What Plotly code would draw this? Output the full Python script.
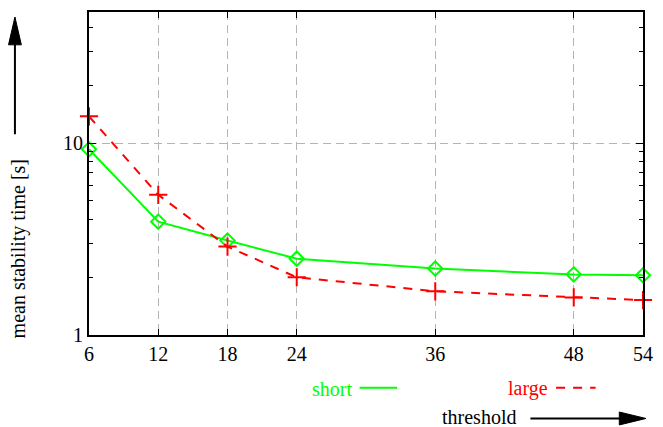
import plotly.graph_objects as go

thresholds = [6, 12, 18, 24, 36, 48, 54]
short_vals = [9.3, 3.90, 3.11, 2.50, 2.22, 2.07, 2.05]
large_vals = [13.8, 5.38, 2.89, 2.00, 1.69, 1.57, 1.52]
x_ticks = [6, 12, 18, 24, 36, 48, 54]
y_major = [1, 10]
y_minor = [2, 3, 4, 5, 6, 7, 8, 9, 20, 30, 40]

W, H = 663, 427
L, R, T, B = 89, 13, 10, 92
PW, PH = W - L - R, H - T - B

def px(x):
    return (x - L) / PW

def py(y):
    return (H - B - y) / PH

FONT = "Liberation Serif, Times New Roman, serif"
FS = 20
GREEN = "#00ff00"
RED = "#ff0000"

fig = go.Figure()
fig.add_trace(go.Scatter(
    x=thresholds, y=short_vals, mode="lines+markers", name="short",
    line=dict(color=GREEN, width=2),
    marker=dict(symbol="diamond-open", size=11, color=GREEN, line=dict(width=2, color=GREEN)),
    showlegend=False, cliponaxis=False))
fig.add_trace(go.Scatter(
    x=thresholds, y=large_vals, mode="lines+markers", name="large",
    line=dict(color=RED, width=2, dash="9px,8px"),
    marker=dict(symbol="cross-thin-open", size=13, color=RED, line=dict(width=2, color=RED)),
    showlegend=False, cliponaxis=False))

grid_color = "#b4b4b4"
fig.update_xaxes(
    range=[6, 54], tickvals=x_ticks, ticktext=[str(v) for v in x_ticks],
    ticks="inside", ticklen=6, tickwidth=1, tickcolor="black",
    showline=True, linecolor="black", linewidth=2, mirror="ticks",
    showgrid=True, gridcolor=grid_color, gridwidth=1, griddash="8px,5px",
    zeroline=False, tickfont=dict(family=FONT, size=FS, color="black"))
fig.update_yaxes(
    type="log", range=[0, 1.684], tickvals=y_major, ticktext=[str(v) for v in y_major],
    ticks="inside", ticklen=7, tickwidth=1, tickcolor="black",
    minor=dict(tickvals=y_minor, ticks="inside", ticklen=4, tickcolor="black", showgrid=False),
    showline=True, linecolor="black", linewidth=2, mirror="ticks",
    showgrid=True, gridcolor=grid_color, gridwidth=1, griddash="8px,5px",
    zeroline=False, tickfont=dict(family=FONT, size=FS, color="black"))

annotations = [
    dict(text="mean stability time [s]", x=px(18), y=py(248), textangle=-90,
         font=dict(family=FONT, size=FS, color="black")),
    dict(text="short", x=px(335), y=py(389), font=dict(family=FONT, size=FS, color=GREEN)),
    dict(text="large", x=px(534), y=py(389), font=dict(family=FONT, size=FS, color=RED)),
    dict(text="threshold", x=px(484), y=py(418), font=dict(family=FONT, size=FS, color="black")),
]
for a in annotations:
    a.update(xref="paper", yref="paper", showarrow=False, xanchor="center", yanchor="middle")

shapes = [
    # legend samples
    dict(type="line", x0=px(363), x1=px(401), y0=py(388), y1=py(388),
         line=dict(color=GREEN, width=2)),
    dict(type="line", x0=px(562), x1=px(602), y0=py(388), y1=py(388),
         line=dict(color=RED, width=2, dash="9px,8px")),
    # y arrow
    dict(type="line", x0=px(14), x1=px(14), y0=py(133), y1=py(42),
         line=dict(color="black", width=2)),
    dict(type="path",
         path=f"M {px(7.5)} {py(43)} L {px(20.5)} {py(43)} L {px(14)} {py(15)} Z",
         fillcolor="black", line=dict(color="black", width=1)),
    # x arrow
    dict(type="line", x0=px(536), x1=px(627), y0=py(419), y1=py(419),
         line=dict(color="black", width=2)),
    dict(type="path",
         path=f"M {px(626)} {py(412.5)} L {px(626)} {py(425.5)} L {px(653)} {py(419)} Z",
         fillcolor="black", line=dict(color="black", width=1)),
]
for s in shapes:
    s.update(xref="paper", yref="paper", layer="above")

fig.update_layout(
    width=W, height=H, margin=dict(l=L, r=R, t=T, b=B),
    paper_bgcolor="white", plot_bgcolor="white",
    annotations=annotations, shapes=shapes, showlegend=False,
    font=dict(family=FONT, size=FS, color="black"))

fig.write_html("out.html", config={"displayModeBar": False},
               post_script="document.body.style.margin='0px';document.body.style.padding='0px';document.body.style.overflow='hidden';")
